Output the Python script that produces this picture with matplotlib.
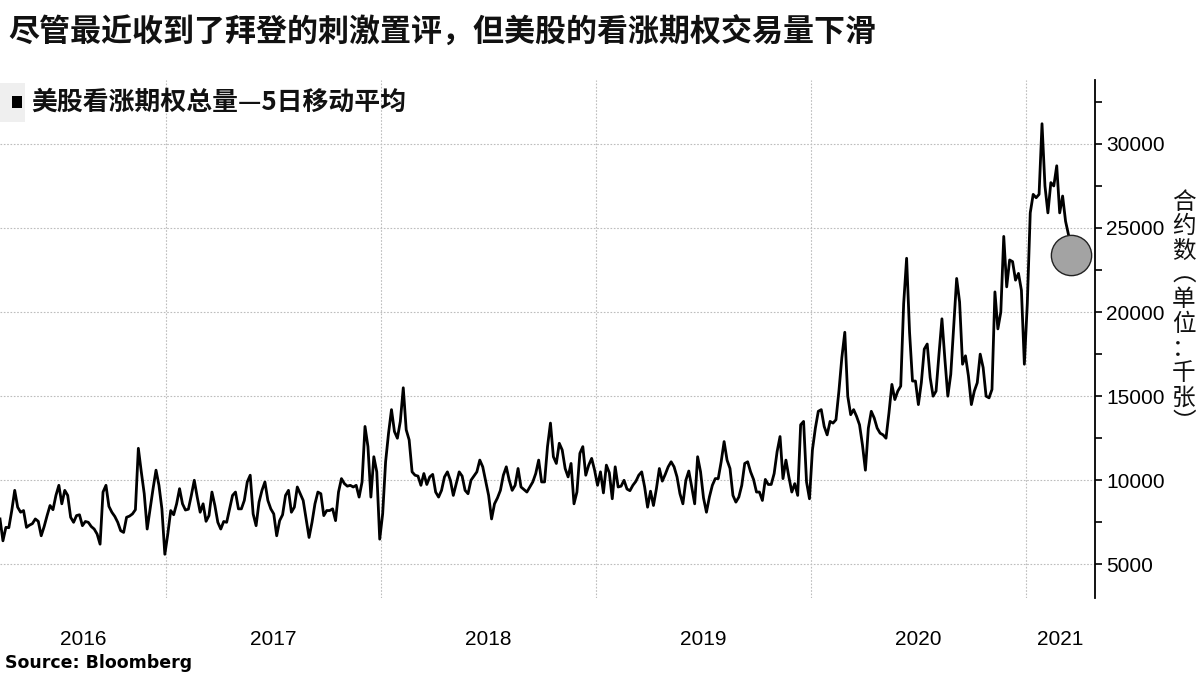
import matplotlib
matplotlib.use("Agg")
import matplotlib.pyplot as plt
import matplotlib.dates as mdates
from matplotlib.ticker import FixedLocator, MultipleLocator
from matplotlib.patches import Rectangle
import pandas as pd

# ---------------- data ----------------
title = "尽管最近收到了拜登的刺激置评，但美股的看涨期权交易量下滑"
legend_label = "美股看涨期权总量—5日移动平均"
ylabel_chars = ["合", "约", "数", "︵", "单", "位", "：", "千", "张", "︶"]
source = "Source: Bloomberg"

start_date = "2016-03-25"   # first observation, 5-day spacing
values = [
    7700, 6400, 7200, 7180, 8200, 9400, 8400, 8100, 8200, 7200,
    7330, 7420, 7700, 7560, 6700, 7250, 7900, 8500, 8250, 9100,
    9700, 8600, 9400, 9100, 7800, 7500, 7900, 7950, 7300, 7550,
    7500, 7250, 7100, 6800, 6200, 9300, 9700, 8450, 8100, 7850,
    7500, 7000, 6900, 7800, 7870, 8000, 8250, 11900, 10500, 9200,
    7100, 8300, 9500, 10600, 9700, 8300, 5600, 6800, 8200, 7950,
    8600, 9500, 8600, 8230, 8280, 9100, 10000, 9000, 8100, 8600,
    7560, 7900, 9300, 8500, 7500, 7100, 7550, 7500, 8300, 9100,
    9300, 8300, 8300, 8800, 9900, 10300, 8000, 7300, 8700, 9400,
    9900, 8800, 8300, 8000, 6700, 7600, 7950, 9100, 9400, 8100,
    8400, 9600, 9200, 8800, 7700, 6600, 7500, 8600, 9300, 9200,
    7900, 8200, 8200, 8300, 7600, 9300, 10100, 9800, 9650, 9700,
    9600, 9700, 9000, 9900, 13200, 12000, 9000, 11400, 10500, 6500,
    8000, 11100, 12800, 14200, 12900, 12500, 13500, 15500, 13000, 12400,
    10500, 10300, 10250, 9700, 10400, 9750, 10200, 10350, 9300, 9000,
    9400, 10200, 10500, 10000, 9100, 9800, 10500, 10250, 9400, 9200,
    10000, 10250, 10500, 11200, 10800, 9950, 9100, 7700, 8600, 8950,
    9400, 10300, 10800, 10000, 9400, 9700, 10700, 9600, 9450, 9300,
    9600, 9900, 10400, 11200, 9900, 9900, 12000, 13400, 11400, 11000,
    12200, 11800, 10700, 10200, 11000, 8600, 9300, 11600, 12000, 10300,
    10900, 11300, 10600, 9700, 10500, 9250, 10900, 10450, 8900, 10800,
    9600, 9650, 10000, 9480, 9380, 9700, 9930, 10300, 10500, 9600,
    8400, 9350, 8500, 9500, 10700, 9950, 10350, 10800, 11100, 10800,
    10200, 9200, 8600, 10000, 10550, 9600, 8600, 11400, 10500, 8950,
    8100, 9000, 9700, 10100, 10100, 11100, 12300, 11200, 10700, 9100,
    8700, 9000, 9700, 11000, 11100, 10500, 10050, 9300, 9300, 8800,
    10050, 9750, 9750, 10400, 11700, 12600, 10100, 11200, 10200, 9300,
    9800, 9100, 13300, 13500, 9900, 8900, 11800, 13100, 14100, 14200,
    13200, 12700, 13500, 13400, 13600, 15300, 17300, 18800, 15000, 13900,
    14200, 13800, 13300, 12100, 10600, 13100, 14100, 13700, 13100, 12800,
    12700, 12500, 14000, 15700, 14800, 15300, 15600, 20500, 23200, 18800,
    15900, 15900, 14500, 15800, 17800, 18100, 16100, 15000, 15300, 17500,
    19600, 17200, 15000, 16300, 19100, 22000, 20600, 16900, 17400, 16200,
    14500, 15300, 15800, 17500, 16700, 15000, 14900, 15400, 21200, 19000,
    20000, 24500, 21500, 23100, 23000, 21900, 22300, 21300, 16900, 20500,
    25900, 27000, 26800, 27000, 31200, 27500, 25900, 27700, 27500, 28700,
    25900, 26900, 25400, 24600, 23400,
]
dates = pd.date_range(start_date, periods=len(values), freq="5D")

x_range = ("2016-03-25", "2021-04-28")
y_range = (3000, 33800)
y_major = [5000, 10000, 15000, 20000, 25000, 30000]
year_lines = ["2017-01-01", "2018-01-01", "2019-01-01", "2020-01-01", "2021-01-01"]
year_label_pos = ["2016-08-13", "2017-07-02", "2018-07-02", "2019-07-02",
                  "2020-07-02", "2021-02-28"]
year_labels = ["2016", "2017", "2018", "2019", "2020", "2021"]

# ---------------- figure ----------------
W, H = 1200, 675
fig = plt.figure(figsize=(W / 100, H / 100), dpi=100)
fig.patch.set_facecolor("white")

ax_left, ax_right, ax_top, ax_bot = 0, 1095, 80, 598
ax = fig.add_axes([ax_left / W, 1 - ax_bot / H, (ax_right - ax_left) / W,
                   (ax_bot - ax_top) / H])
ax.set_facecolor("white")

ax.plot(dates, values, color="black", lw=2.0, solid_joinstyle="round", zorder=3)
ax.plot([dates[-1]], [values[-1]], "o", ms=29, mfc="#a3a3a3", mec="#222222",
        mew=1.0, zorder=4)

ax.set_xlim(pd.Timestamp(x_range[0]), pd.Timestamp(x_range[1]))
ax.set_ylim(*y_range)

# gridlines
grid_kw = dict(color="#bdbdbd", lw=0.8, linestyle=(0, (1.5, 1.5)), zorder=1)
for d in year_lines:
    ax.axvline(pd.Timestamp(d), **grid_kw)
for v in y_major:
    ax.axhline(v, **grid_kw)

# spines
for s in ["left", "top", "bottom"]:
    ax.spines[s].set_visible(False)
ax.spines["right"].set_color("black")
ax.spines["right"].set_linewidth(1.3)

# y ticks on the right
ax.yaxis.tick_right()
ax.yaxis.set_major_locator(FixedLocator(y_major))
ax.yaxis.set_minor_locator(MultipleLocator(2500))
ax.tick_params(axis="y", which="both", direction="out", length=5, width=1.2,
               colors="black", pad=3)
ax.tick_params(axis="y", which="major", labelsize=15)
for lab in ax.get_yticklabels():
    lab.set_fontfamily("Liberation Sans")

# x labels at mid-year positions
ax.xaxis.set_major_locator(FixedLocator([mdates.date2num(pd.Timestamp(d))
                                         for d in year_label_pos]))
ax.set_xticklabels(year_labels, fontfamily="Liberation Sans", fontsize=15)
ax.tick_params(axis="x", which="both", length=0, pad=23)

# title
fig.text(8 / W, 1 - 33 / H, title, fontsize=22.3, fontweight="bold",
         family=["Noto Sans CJK SC", "DejaVu Sans"], va="center", ha="left",
         color="#111111")

# legend
fig.patches.append(Rectangle((0, 1 - 122 / H), 25 / W, 39 / H,
                             transform=fig.transFigure, facecolor="#efefef",
                             edgecolor="none", zorder=0))
fig.patches.append(Rectangle((12 / W, 1 - 108 / H), 10 / W, 12 / H,
                             transform=fig.transFigure, facecolor="black",
                             edgecolor="none", zorder=1))
fig.text(31 / W, 1 - 102 / H, legend_label, fontsize=18.6, fontweight="bold",
         family=["Noto Sans CJK SC", "DejaVu Sans"], va="center", ha="left",
         color="#111111")

# vertical y-axis label (stacked characters)
for i, ch in enumerate(ylabel_chars):
    fig.text(1184 / W, 1 - (202 + i * 24.5) / H, ch, fontsize=17,
             family=["Noto Sans CJK SC", "DejaVu Sans"], va="center",
             ha="center", color="#111111")

# source
fig.text(5 / W, 1 - 663 / H, source, fontsize=12.5, fontweight="bold",
         family="DejaVu Sans", va="center", ha="left", color="black")

fig.savefig("out.png", dpi=100)
